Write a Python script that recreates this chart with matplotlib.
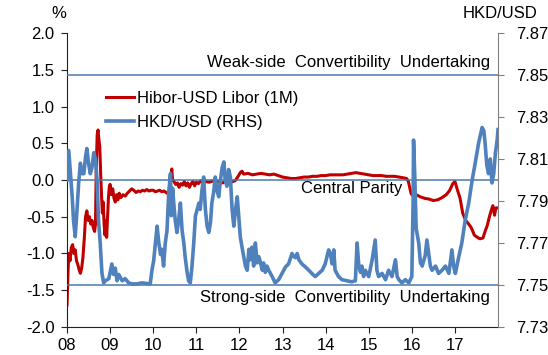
import numpy as np
import matplotlib.pyplot as plt

plt.rcParams['font.family'] = ['Liberation Sans', 'DejaVu Sans']
plt.rcParams['axes.unicode_minus'] = False

# Hibor-USD Libor (1M) spread, % (left axis)
hibor_t = [2008.00, 2008.02, 2008.04, 2008.07, 2008.10, 2008.13, 2008.16, 2008.19, 2008.22, 2008.25,
           2008.28, 2008.31, 2008.34, 2008.37, 2008.40, 2008.43, 2008.46, 2008.49, 2008.52, 2008.55,
           2008.58, 2008.61, 2008.64, 2008.66, 2008.68, 2008.70, 2008.72, 2008.74, 2008.76, 2008.78,
           2008.80, 2008.82, 2008.84, 2008.86, 2008.88, 2008.90, 2008.92, 2008.94, 2008.96, 2008.98,
           2009.00, 2009.03, 2009.06, 2009.09, 2009.12, 2009.15, 2009.18, 2009.21, 2009.25, 2009.30,
           2009.35, 2009.40, 2009.45, 2009.50, 2009.55, 2009.60, 2009.65, 2009.70, 2009.75, 2009.80,
           2009.85, 2009.90, 2009.95, 2010.00, 2010.05, 2010.10, 2010.15, 2010.20, 2010.25, 2010.30,
           2010.35, 2010.38, 2010.41, 2010.43, 2010.45, 2010.48, 2010.52, 2010.56, 2010.60, 2010.64,
           2010.68, 2010.72, 2010.76, 2010.80, 2010.84, 2010.88, 2010.92, 2010.96, 2011.00, 2011.05,
           2011.10, 2011.15, 2011.20, 2011.30, 2011.40, 2011.50, 2011.60, 2011.70, 2011.80, 2011.90,
           2011.96, 2012.02, 2012.06, 2012.10, 2012.20, 2012.30, 2012.40, 2012.50, 2012.60, 2012.70,
           2012.80, 2012.90, 2013.00, 2013.10, 2013.20, 2013.30, 2013.40, 2013.50, 2013.60, 2013.70,
           2013.80, 2013.90, 2014.00, 2014.10, 2014.20, 2014.30, 2014.40, 2014.50, 2014.60, 2014.70,
           2014.80, 2014.90, 2015.00, 2015.10, 2015.20, 2015.30, 2015.40, 2015.50, 2015.60, 2015.70,
           2015.80, 2015.88, 2015.92, 2015.95, 2015.98, 2016.00, 2016.05, 2016.10, 2016.20, 2016.30,
           2016.40, 2016.50, 2016.60, 2016.70, 2016.80, 2016.88, 2016.95, 2017.00, 2017.05, 2017.12,
           2017.18, 2017.25, 2017.32, 2017.38, 2017.45, 2017.52, 2017.58, 2017.65, 2017.70, 2017.75,
           2017.80, 2017.85, 2017.88, 2017.92, 2017.95, 2018.00]
hibor = [-1.70, -1.30, -1.00, -1.10, -0.92, -0.88, -1.00, -0.95, -1.10, -1.15,
         -1.22, -1.27, -1.20, -1.05, -0.80, -0.50, -0.42, -0.55, -0.50, -0.60,
         -0.55, -0.65, -0.70, -0.60, 0.20, 0.62, 0.68, 0.55, 0.45, 0.10,
         -0.20, -0.45, -0.30, -0.60, -0.75, -0.55, -0.78, -0.50, -0.25, -0.10,
         -0.06, -0.20, -0.12, -0.25, -0.30, -0.20, -0.27, -0.18, -0.24, -0.20,
         -0.22, -0.18, -0.15, -0.12, -0.14, -0.17, -0.15, -0.16, -0.14, -0.15,
         -0.13, -0.15, -0.14, -0.14, -0.16, -0.15, -0.14, -0.16, -0.15, -0.17,
         -0.19, -0.12, 0.05, 0.15, 0.00, -0.02, -0.06, -0.04, -0.10, -0.05,
         -0.07, -0.02, -0.08, -0.04, -0.10, -0.05, -0.02, -0.08, -0.03, -0.05,
         -0.01, -0.04, -0.02, -0.03, -0.01, -0.02, -0.04, -0.02, -0.03, -0.01,
         0.04, 0.10, 0.12, 0.08, 0.09, 0.07, 0.08, 0.09, 0.08, 0.07,
         0.08, 0.06, 0.04, 0.03, 0.02, 0.02, 0.03, 0.04, 0.04, 0.05,
         0.05, 0.06, 0.06, 0.07, 0.07, 0.07, 0.07, 0.08, 0.09, 0.10,
         0.09, 0.08, 0.07, 0.06, 0.06, 0.06, 0.05, 0.05, 0.05, 0.04,
         0.03, 0.02, -0.02, -0.10, -0.18, -0.20, -0.22, -0.20, -0.23, -0.25,
         -0.26, -0.28, -0.27, -0.24, -0.20, -0.14, -0.05, -0.02, -0.12, -0.25,
         -0.45, -0.55, -0.60, -0.65, -0.75, -0.78, -0.80, -0.79, -0.70, -0.62,
         -0.50, -0.40, -0.35, -0.48, -0.38, -0.38]

# HKD/USD spot (right axis)
hkd_t = [2008.00, 2008.04, 2008.08, 2008.12, 2008.15, 2008.19, 2008.23, 2008.27, 2008.31, 2008.35,
         2008.39, 2008.43, 2008.46, 2008.50, 2008.54, 2008.58, 2008.62, 2008.66, 2008.70, 2008.73,
         2008.77, 2008.81, 2008.85, 2008.89, 2008.97, 2009.04, 2009.08, 2009.12, 2009.16, 2009.20,
         2009.28, 2009.35, 2009.43, 2009.51, 2009.62, 2009.74, 2009.93, 2009.97, 2010.01, 2010.05,
         2010.09, 2010.13, 2010.17, 2010.20, 2010.24, 2010.28, 2010.32, 2010.36, 2010.40, 2010.42,
         2010.45, 2010.48, 2010.51, 2010.55, 2010.59, 2010.63, 2010.67, 2010.71, 2010.74, 2010.78,
         2010.82, 2010.86, 2010.90, 2010.94, 2010.98, 2011.02, 2011.06, 2011.09, 2011.13, 2011.17,
         2011.21, 2011.25, 2011.29, 2011.33, 2011.36, 2011.40, 2011.44, 2011.48, 2011.52, 2011.56,
         2011.60, 2011.64, 2011.67, 2011.71, 2011.75, 2011.79, 2011.83, 2011.87, 2011.91, 2011.95,
         2011.99, 2012.02, 2012.06, 2012.10, 2012.14, 2012.18, 2012.22, 2012.25, 2012.29, 2012.33,
         2012.37, 2012.41, 2012.45, 2012.49, 2012.53, 2012.56, 2012.60, 2012.64, 2012.68, 2012.76,
         2012.83, 2012.91, 2012.99, 2013.07, 2013.14, 2013.22, 2013.26, 2013.30, 2013.34, 2013.38,
         2013.45, 2013.53, 2013.61, 2013.68, 2013.76, 2013.84, 2013.92, 2013.99, 2014.07, 2014.11,
         2014.15, 2014.19, 2014.22, 2014.30, 2014.38, 2014.50, 2014.60, 2014.69, 2014.73, 2014.77,
         2014.81, 2014.84, 2014.88, 2014.92, 2015.00, 2015.08, 2015.15, 2015.19, 2015.23, 2015.31,
         2015.39, 2015.46, 2015.54, 2015.62, 2015.66, 2015.70, 2015.77, 2015.85, 2015.93, 2016.00,
         2016.03, 2016.04, 2016.07, 2016.10, 2016.16, 2016.20, 2016.24, 2016.31, 2016.35, 2016.39,
         2016.43, 2016.47, 2016.55, 2016.62, 2016.70, 2016.78, 2016.86, 2016.93, 2016.97, 2017.01,
         2017.09, 2017.16, 2017.24, 2017.32, 2017.40, 2017.47, 2017.55, 2017.63, 2017.67, 2017.70,
         2017.74, 2017.78, 2017.82, 2017.86, 2017.90, 2017.94, 2017.98, 2018.00]
hkd = [7.8000, 7.8140, 7.8030, 7.7920, 7.7810, 7.7730, 7.7850, 7.7986, 7.8080, 7.8030,
       7.8030, 7.8110, 7.8150, 7.8080, 7.8030, 7.8060, 7.8130, 7.8100, 7.7990, 7.7810,
       7.7700, 7.7557, 7.7510, 7.7520, 7.7530, 7.7600, 7.7550, 7.7580, 7.7520, 7.7550,
       7.7520, 7.7530, 7.7510, 7.7505, 7.7505, 7.7510, 7.7505, 7.7570, 7.7615, 7.7700,
       7.7780, 7.7700, 7.7645, 7.7670, 7.7590, 7.7700, 7.7760, 7.7940, 7.8030, 7.7830,
       7.7960, 7.7880, 7.7810, 7.7750, 7.7810, 7.7890, 7.7760, 7.7700, 7.7635, 7.7570,
       7.7520, 7.7510, 7.7590, 7.7700, 7.7830, 7.7860, 7.7890, 7.7860, 7.7950, 7.8014,
       7.7860, 7.7780, 7.7750, 7.7800, 7.7890, 7.7940, 7.8014, 7.7950, 7.7920, 7.8000,
       7.8060, 7.8086, 7.8000, 7.7970, 7.8050, 7.8014, 7.7860, 7.7780, 7.7860, 7.7920,
       7.7810, 7.7730, 7.7680, 7.7635, 7.7590, 7.7570, 7.7670, 7.7620, 7.7680, 7.7590,
       7.7700, 7.7605, 7.7635, 7.7605, 7.7570, 7.7605, 7.7560, 7.7590, 7.7570, 7.7540,
       7.7510, 7.7525, 7.7555, 7.7586, 7.7600, 7.7650, 7.7635, 7.7630, 7.7650, 7.7620,
       7.7600, 7.7586, 7.7570, 7.7555, 7.7540, 7.7555, 7.7570, 7.7600, 7.7667, 7.7650,
       7.7600, 7.7667, 7.7570, 7.7540, 7.7525, 7.7520, 7.7515, 7.7520, 7.7700, 7.7590,
       7.7560, 7.7590, 7.7540, 7.7570, 7.7540, 7.7620, 7.7714, 7.7570, 7.7540, 7.7555,
       7.7525, 7.7570, 7.7540, 7.7620, 7.7540, 7.7525, 7.7510, 7.7525, 7.7510, 7.7540,
       7.7900, 7.8190, 7.8010, 7.7770, 7.7700, 7.7605, 7.7590, 7.7640, 7.7714, 7.7650,
       7.7590, 7.7570, 7.7590, 7.7555, 7.7570, 7.7590, 7.7555, 7.7667, 7.7590, 7.7555,
       7.7635, 7.7700, 7.7810, 7.7890, 7.8000, 7.8080, 7.8176, 7.8250, 7.8235, 7.8176,
       7.8070, 7.8030, 7.8100, 7.7986, 7.8030, 7.8130, 7.8190, 7.8240]

years = list(range(2008, 2018))
year_labels = ['08', '09', '10', '11', '12', '13', '14', '15', '16', '17']
bands = [7.85, 7.80, 7.75]

red = '#C00000'
blue = '#4F81BD'
band_col = '#4A78AA'

fig = plt.figure(figsize=(5.48, 3.55), dpi=100)
ax = fig.add_axes([0.1223, 0.079, 0.7865, 0.828])
ax2 = ax.twinx()

l1, = ax.plot(hibor_t, hibor, color=red, lw=2.2, label='Hibor-USD Libor (1M)')
for b in bands:
    ax2.axhline(b, color=band_col, lw=1.1, zorder=1)
l2, = ax2.plot(hkd_t, hkd, color=blue, lw=2.6, label='HKD/USD (RHS)', zorder=2)

ax.set_xlim(2008, 2018)
ax.set_ylim(-2.0, 2.0)
ax2.set_ylim(7.73, 7.87)
ax.set_xticks(years)
ax.set_xticklabels(year_labels)
ax.set_yticks(np.arange(-2.0, 2.01, 0.5))
ax.set_yticklabels(['%.1f' % v for v in np.arange(-2.0, 2.01, 0.5)])
ax2.set_yticks(np.arange(7.73, 7.871, 0.02))
ax2.set_yticklabels(['%.2f' % v for v in np.arange(7.73, 7.871, 0.02)])

for a in (ax, ax2):
    a.spines['top'].set_visible(False)
ax.spines['right'].set_visible(False)
ax2.spines['left'].set_visible(False)
ax2.spines['bottom'].set_visible(False)
ax.spines['left'].set_color('#222222')
ax.spines['bottom'].set_color('#222222')
ax2.spines['right'].set_color('#808080')

ax.tick_params(axis='y', direction='out', length=4, pad=5, labelsize=12, color='#222222')
ax.tick_params(axis='x', direction='out', length=4, pad=4, labelsize=12, color='#222222')
ax2.tick_params(axis='y', direction='out', length=4, pad=9, labelsize=12, color='#808080')

ax.text(2017.81, 1.6, 'Weak-side  Convertibility  Undertaking', ha='right', va='center', fontsize=12)
ax.text(2015.77, -0.11, 'Central Parity', ha='right', va='center', fontsize=12)
ax.text(2017.81, -1.6, 'Strong-side  Convertibility  Undertaking', ha='right', va='center', fontsize=12)

fig.text(59 / 548, 1 - 14 / 355, '%', ha='center', va='center', fontsize=12)
fig.text(500 / 548, 1 - 14 / 355, 'HKD/USD', ha='center', va='center', fontsize=12)

ax2.legend([l1, l2], ['Hibor-USD Libor (1M)', 'HKD/USD (RHS)'], loc='upper left',
           bbox_to_anchor=(0.075, 0.825), frameon=False, fontsize=12,
           handlelength=1.7, handletextpad=0.15, labelspacing=0.55, borderaxespad=0)

fig.savefig('out.png', dpi=100)
